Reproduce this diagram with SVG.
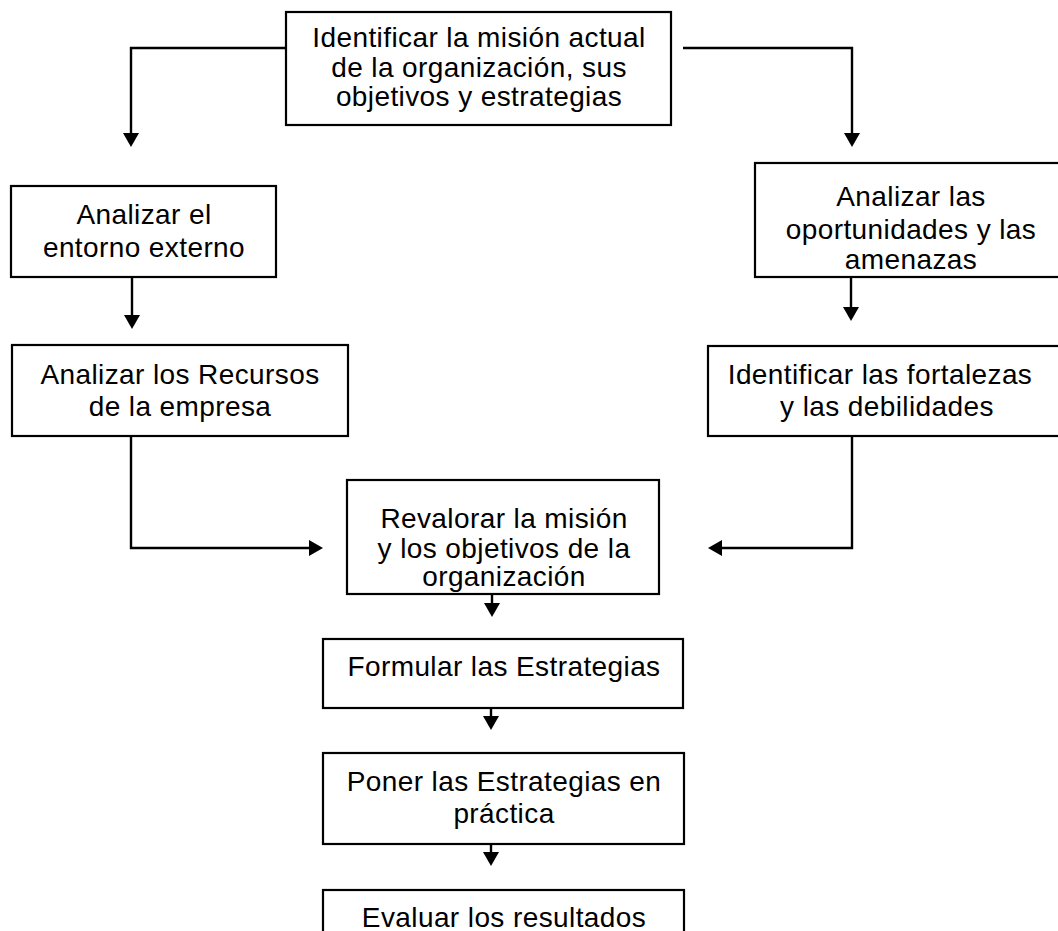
<svg xmlns="http://www.w3.org/2000/svg" width="1058" height="931" viewBox="0 0 1058 931">
<style>
.box{fill:#fff;stroke:#000;stroke-width:2.2}
.t{font-family:"Liberation Sans",Arial,sans-serif;font-size:28px;letter-spacing:0.4px;fill:#000;text-anchor:middle}
.c{fill:none;stroke:#000;stroke-width:2.4}
</style>
<defs>
<marker id="ah" viewBox="0 0 14 16" refX="8" refY="8" markerWidth="14" markerHeight="16" markerUnits="userSpaceOnUse" orient="auto">
<path d="M0,0 L14,8 L0,16 Z" fill="#000"/>
</marker>
</defs>
<rect width="1058" height="931" fill="#fff"/>
<g id="connectors">
<path class="c" d="M286,48 H131 V141" marker-end="url(#ah)"/>
<path class="c" d="M683,48 H852 V141" marker-end="url(#ah)"/>
<path class="c" d="M132,275 V323" marker-end="url(#ah)"/>
<path class="c" d="M851,277 V315" marker-end="url(#ah)"/>
<path class="c" d="M131,436 V548 H317" marker-end="url(#ah)"/>
<path class="c" d="M852,436 V548 H714" marker-end="url(#ah)"/>
<path class="c" d="M492,594 V611" marker-end="url(#ah)"/>
<path class="c" d="M491,708 V724" marker-end="url(#ah)"/>
<path class="c" d="M491,844 V860" marker-end="url(#ah)"/>
</g>
<g id="n1">
<rect class="box" x="286" y="12" width="385" height="113"/>
<text class="t" x="479" y="47">Identificar la misión actual</text>
<text class="t" x="479" y="77">de la organización, sus</text>
<text class="t" x="479" y="106">objetivos y estrategias</text>
</g>
<g id="n2">
<rect class="box" x="11" y="186" width="265" height="91"/>
<text class="t" x="144" y="224">Analizar el</text>
<text class="t" x="144" y="257">entorno externo</text>
</g>
<g id="n3">
<rect class="box" x="755" y="163" width="320" height="114"/>
<text class="t" x="911" y="206">Analizar las</text>
<text class="t" x="911" y="239">oportunidades y las</text>
<text class="t" x="911" y="269">amenazas</text>
</g>
<g id="n4">
<rect class="box" x="12" y="345" width="336" height="91"/>
<text class="t" x="180" y="384">Analizar los Recursos</text>
<text class="t" x="180" y="416">de la empresa</text>
</g>
<g id="n5">
<rect class="box" x="708" y="346" width="370" height="90"/>
<text class="t" x="880" y="384">Identificar las fortalezas</text>
<text class="t" x="887" y="416">y las debilidades</text>
</g>
<g id="n6">
<rect class="box" x="347" y="480" width="312" height="114"/>
<text class="t" x="504" y="528">Revalorar la misión</text>
<text class="t" x="504" y="558">y los objetivos de la</text>
<text class="t" x="504" y="586">organización</text>
</g>
<g id="n7">
<rect class="box" x="323" y="639" width="360" height="69"/>
<text class="t" x="504" y="676">Formular las Estrategias</text>
</g>
<g id="n8">
<rect class="box" x="323" y="753" width="361" height="91"/>
<text class="t" x="504" y="791">Poner las Estrategias en</text>
<text class="t" x="504" y="823">práctica</text>
</g>
<g id="n9">
<rect class="box" x="323" y="890" width="361" height="60"/>
<text class="t" x="504" y="927">Evaluar los resultados</text>
</g>
</svg>
